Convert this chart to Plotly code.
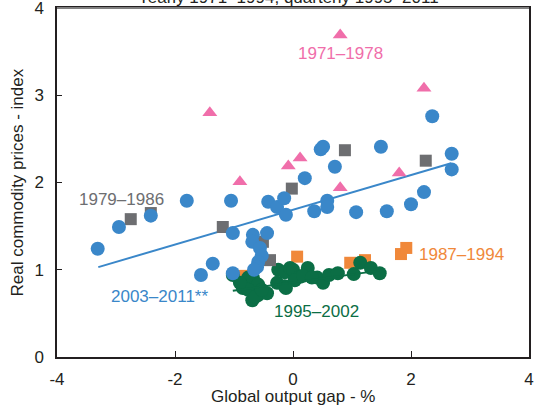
import plotly.graph_objects as go

# ---- data ----
tri_x = [0.80, -1.41, -0.90, -0.08, 0.12, 2.22, 1.80, 0.80]
tri_y = [3.69, 2.80, 2.01, 2.19, 2.28, 3.08, 2.11, 1.94]

gray_x = [0.88, 2.25, -0.02, -2.75, -2.41, -1.19, -0.51, -0.39]
gray_y = [2.37, 2.25, 1.93, 1.58, 1.65, 1.49, 1.32, 1.11]

orange_x = [-0.86, -0.70, 0.07, 0.97, 1.22, 1.83, 1.92]
orange_y = [0.93, 0.91, 1.15, 1.08, 1.11, 1.18, 1.25]

blue_x = [-3.31, -2.95, -2.41, -1.80, -1.05, -0.42, -0.27, -0.15, -0.12, 0.20,
          0.47, 0.51, 0.71, 0.36, 0.58, 0.58, 1.07, 1.59, 2.00, 2.22,
          2.69, 2.69, 2.36, 1.49, -1.02, -0.68, -0.44, -0.69, -0.56, -0.53,
          -0.59, -0.61, -1.36, -1.56, -1.02, -0.66]
blue_y = [1.24, 1.49, 1.62, 1.79, 1.79, 1.78, 1.72, 1.82, 1.63, 2.05,
          2.38, 2.41, 2.18, 1.67, 1.79, 1.72, 1.66, 1.67, 1.75, 1.89,
          2.33, 2.15, 2.76, 2.41, 1.42, 1.40, 1.42, 1.32, 1.25, 1.16,
          1.09, 1.03, 1.07, 0.94, 0.96, 1.00]

green_x = [-1.02, -0.85, -0.76, -0.68, -0.59, -0.76, -0.59, -0.44, -0.69, -0.64,
           -0.25, -0.14, -0.05, 0.00, 0.12, -0.27, -0.14, 0.03, 0.25, 0.17,
           0.41, 0.51, 0.61, 0.76, 1.03, 1.14, 1.32, 1.47, -0.12, 0.32,
           -0.53, -0.90]
green_y = [0.94, 0.79, 0.91, 0.91, 0.83, 0.77, 0.71, 0.73, 0.65, 0.69,
           1.00, 0.97, 1.02, 1.00, 0.92, 0.85, 0.81, 0.88, 1.02, 0.93,
           0.91, 0.85, 0.94, 0.96, 0.95, 1.08, 1.02, 0.96, 0.79, 0.91,
           0.77, 0.85]

blue_fit_x = [-3.30, 2.68]
blue_fit_y = [1.03, 2.22]
green_fit_x = [-1.02, 1.47]
green_fit_y = [0.76, 0.99]

x_ticks = [-4, -2, 0, 2, 4]
x_tick_text = ["-4", "-2", "0", "2", "4"]
y_ticks = [0, 1, 2, 3, 4]

title_text = "Yearly 1971–1994, quarterly 1995–2011"
x_title = "Global output gap - %"
y_title = "Real commodity prices - index"

PINK = "#F06EAA"
GRAY = "#6D6E71"
ORANGE = "#F0883A"
BLUE = "#3A87C9"
GREEN = "#0B6E45"

fig = go.Figure()
fig.add_trace(go.Scatter(x=orange_x, y=orange_y, mode="markers",
                         marker=dict(symbol="square", size=12, color=ORANGE, line=dict(width=0))))
fig.add_trace(go.Scatter(x=green_x, y=green_y, mode="markers",
                         marker=dict(symbol="circle", size=14, color=GREEN, line=dict(width=0))))
fig.add_trace(go.Scatter(x=green_fit_x, y=green_fit_y, mode="lines",
                         line=dict(color=GREEN, width=2)))
fig.add_trace(go.Scatter(x=blue_fit_x, y=blue_fit_y, mode="lines",
                         line=dict(color=BLUE, width=2)))
fig.add_trace(go.Scatter(x=gray_x, y=gray_y, mode="markers",
                         marker=dict(symbol="square", size=12, color=GRAY, line=dict(width=0))))
fig.add_trace(go.Scatter(x=blue_x, y=blue_y, mode="markers",
                         marker=dict(symbol="circle", size=14, color=BLUE, line=dict(width=0))))
fig.add_trace(go.Scatter(x=tri_x, y=tri_y, mode="markers",
                         marker=dict(symbol="triangle-up", size=13, color=PINK, line=dict(width=0))))

labels = [
    ("1971–1978", 0.80, 3.48, PINK),
    ("1979–1986", -2.9, 1.81, GRAY),
    ("1987–1994", 2.85, 1.18, ORANGE),
    ("2003–2011**", -2.26, 0.69, BLUE),
    ("1995–2002", 0.40, 0.52, GREEN),
]
for text, lx, ly, col in labels:
    fig.add_annotation(x=lx, y=ly, text=text, showarrow=False,
                       font=dict(size=17, color=col), xanchor="center", yanchor="middle")

fig.add_annotation(xref="paper", yref="paper", x=0.49, y=1, yshift=11, text=title_text,
                   showarrow=False, font=dict(size=17, color="#231F20"),
                   xanchor="center", yanchor="middle")
fig.add_annotation(xref="paper", yref="paper", x=0.5, y=0, yshift=-39, text=x_title,
                   showarrow=False, font=dict(size=17, color="#231F20"),
                   xanchor="center", yanchor="middle")
fig.add_annotation(xref="paper", yref="paper", x=0, y=0.5, xshift=-40, text=y_title,
                   textangle=-90, showarrow=False, font=dict(size=17, color="#231F20"),
                   xanchor="center", yanchor="middle")

# top frame line drawn in gray
fig.add_shape(type="line", xref="paper", yref="paper", x0=0, x1=1, y0=1, y1=1,
              line=dict(color="#808080", width=2))

fig.update_layout(
    template="none",
    width=537, height=408,
    margin=dict(l=57, r=8, t=8, b=51, pad=0, autoexpand=False),
    paper_bgcolor="white", plot_bgcolor="white",
    showlegend=False,
    font=dict(family="Liberation Sans, Arial, sans-serif", size=17, color="#231F20"),
)
fig.update_xaxes(range=[-4, 4], tickvals=x_ticks, ticktext=x_tick_text, automargin=False,
                 showgrid=False, zeroline=False, showline=True, linecolor="#231F20",
                 linewidth=1.5, mirror=True, ticks="inside", ticklen=6, tickcolor="#231F20",
                 ticklabelstandoff=6, ticklabeloverflow="allow")
fig.update_yaxes(range=[0, 4], tickvals=y_ticks, automargin=False,
                 showgrid=False, zeroline=False, showline=True, linecolor="#231F20",
                 linewidth=1.5, mirror=True, ticks="inside", ticklen=5, tickcolor="#231F20",
                 ticklabelstandoff=8, ticklabeloverflow="allow")

fig.write_html("out.html", config={"displayModeBar": False},
               post_script="document.body.style.margin='0';document.body.style.padding='0';"
                           "document.body.style.overflow='hidden';")
